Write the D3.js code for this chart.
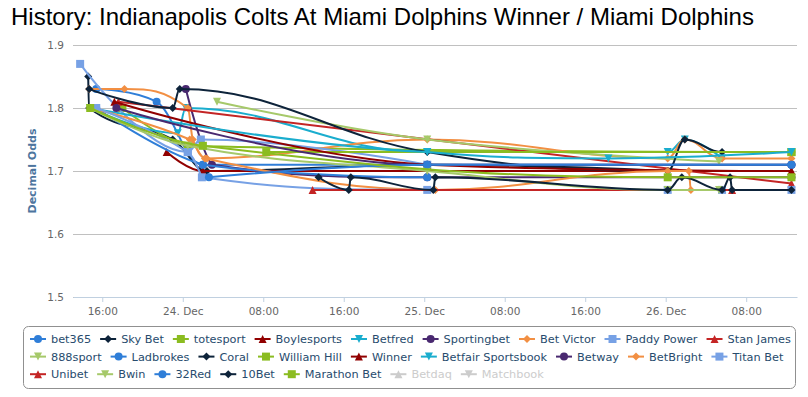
<!DOCTYPE html>
<html lang="en">
<head>
<meta charset="UTF-8">
<title>History: Indianapolis Colts At Miami Dolphins Winner / Miami Dolphins</title>
<script src="https://d3js.org/d3.v7.min.js"></script>
<style>
    body { margin: 0; background: #fff; }
    .title { font: 24px "Liberation Sans", Arial, sans-serif; fill: #000; }
    .tick text { font: 10.5px "DejaVu Sans", Verdana, sans-serif; fill: #666; }
    .ytitle { font: bold 11px "DejaVu Sans", Verdana, sans-serif; fill: #4d759e; }
    .legend text { font: 11.3px "DejaVu Sans", Verdana, sans-serif; fill: #274b6d; }
</style>
</head>
<body>
<script>
// bookmakers, in legend order
const names = ["bet365", "Sky Bet", "totesport", "Boylesports", "Betfred", "Sportingbet", "Bet Victor",
    "Paddy Power", "Stan James", "888sport", "Ladbrokes", "Coral", "William Hill", "Winner",
    "Betfair Sportsbook", "Betway", "BetBright", "Titan Bet", "Unibet", "Bwin", "32Red", "10Bet",
    "Marathon Bet", "Betdaq", "Matchbook"];
const hidden = ["Betdaq", "Matchbook"];

const colors = ["#2f7ed8", "#0d233a", "#8bbc21", "#910000", "#1aadce",
    "#492970", "#f28f43", "#77a1e5", "#c42525", "#a6c96a"];
const symbols = ["circle", "diamond", "square", "triangle", "triangle-down"];

// odds history: [hours after 23 Dec 00:00, decimal odds]
const bet365      = [[15.4,1.83],[21.4,1.81],[26.0,1.71],[48.3,1.71],[84.5,1.71]];
const skyBet      = [[14.6,1.85],[14.7,1.80],[23.0,1.75],[26.4,1.70],[48.3,1.71],[72.2,1.70]];
const totesport   = [[18.0,1.80],[24.5,1.74],[84.5,1.73]];
const boylesports = [[22.4,1.73],[26.0,1.70],[84.5,1.70]];
const betfred     = [[14.8,1.80],[23.5,1.76],[24.3,1.80],[48.3,1.73],[72.2,1.73],[73.9,1.75],[77.6,1.72]];
const sportingbet = [[24.3,1.83],[26.9,1.71],[48.3,1.69],[84.5,1.69]];
const betVictor   = [[14.7,1.83],[18.2,1.83],[24.5,1.80],[25.0,1.75],[26.4,1.72],[48.3,1.75],[72.2,1.72],[73.9,1.75],[77.6,1.72],[84.5,1.72]];
const paddyPower  = [[13.8,1.87],[24.5,1.73],[25.8,1.75],[48.3,1.71]];
const stanJames   = [[17.6,1.81],[84.5,1.68]];
const sport888    = [[27.4,1.81],[48.3,1.75],[77.3,1.715]];
const ladbrokes   = [[15.4,1.80],[26.0,1.71],[48.3,1.69]];
const coral       = [[14.7,1.83],[23.0,1.80],[23.7,1.83],[48.3,1.73],[72.2,1.70],[73.9,1.75],[77.6,1.73],[84.5,1.73]];
const williamHill = [[32.3,1.73],[84.5,1.73]];
const winner      = [[17.2,1.81],[48.3,1.71],[84.5,1.70]];
const betfair     = [[14.8,1.80],[48.3,1.73],[66.3,1.72],[84.5,1.73]];
const betway      = [[17.4,1.80],[48.3,1.71],[84.5,1.71]];
const betBright   = [[14.8,1.80],[24.7,1.75],[26.2,1.72],[49.1,1.67],[72.2,1.70],[74.3,1.70],[74.5,1.67],[84.5,1.67]];
const titanBet    = [[15.4,1.80],[24.5,1.73],[25.9,1.69],[48.3,1.67],[72.2,1.67],[77.6,1.67],[84.5,1.67]];
const unibet      = [[36.9,1.67],[78.6,1.67]];
const bwin        = [[14.8,1.80],[24.5,1.74],[48.3,1.70],[72.2,1.67],[77.3,1.67]];
const red32       = [[26.6,1.69],[48.3,1.71],[84.5,1.71]];
const bet10       = [[37.5,1.69],[40.5,1.67],[40.7,1.69],[48.9,1.67],[49.1,1.69],[72.2,1.67],[73.6,1.69],[77.6,1.67],[78.4,1.69],[78.6,1.67],[84.5,1.67]];
const marathonBet = [[14.8,1.80],[26.0,1.74],[72.2,1.69],[84.5,1.69]];

const seriesValues = [bet365, skyBet, totesport, boylesports, betfred, sportingbet, betVictor,
    paddyPower, stanJames, sport888, ladbrokes, coral, williamHill, winner, betfair, betway,
    betBright, titanBet, unibet, bwin, red32, bet10, marathonBet, [], []];

const yTicks = [1.5, 1.6, 1.7, 1.8, 1.9];
const legendRows = [9, 9, 7];

const width = 808, height = 397;
const margin = {left: 73, right: 11, top: 45, bottom: 100};
const base = Date.UTC(2013, 11, 23);
const toDate = h => new Date(base + h * 3600e3);

const svg = d3.select("body").append("svg")
    .attr("width", width)
    .attr("height", height);

svg.append("text")
    .attr("class", "title")
    .attr("x", 11)
    .attr("y", 25)
    .text("History: Indianapolis Colts At Miami Dolphins Winner / Miami Dolphins");

const x = d3.scaleUtc()
    .domain([toDate(13.09), toDate(85.05)])
    .range([margin.left, width - margin.right]);
const y = d3.scaleLinear()
    .domain([1.5, 1.9])
    .range([height - margin.bottom, margin.top]);

// grid + y labels
const yAxis = svg.append("g")
    .attr("transform", `translate(${margin.left},0)`)
    .call(d3.axisLeft(y).tickValues(yTicks).tickFormat(d3.format(".1f"))
        .tickSize(-(width - margin.left - margin.right)).tickPadding(9));
yAxis.select(".domain").remove();
yAxis.selectAll(".tick line").attr("stroke", "#c0c0c0");
yAxis.selectAll(".tick text").attr("dy", "0.35em");

svg.append("text")
    .attr("class", "ytitle")
    .attr("transform", `translate(36,${(margin.top + height - margin.bottom) / 2}) rotate(-90)`)
    .attr("text-anchor", "middle")
    .text("Decimal Odds");

// x axis
const xAxis = svg.append("g")
    .attr("transform", `translate(0,${height - margin.bottom})`)
    .call(d3.axisBottom(x).ticks(d3.utcHour.every(8))
        .tickFormat(d => d.getUTCHours() === 0 ? d3.utcFormat("%-d. %b")(d) : d3.utcFormat("%H:%M")(d))
        .tickSize(5).tickPadding(6).tickSizeOuter(0));
xAxis.select(".domain").attr("stroke", "#c0d0e0");
xAxis.selectAll(".tick line").attr("stroke", "#c0d0e0");

function symbolPath(type, cx, cy, r) {
    if (type === "circle") return `M${cx - r},${cy}a${r},${r} 0 1,0 ${2 * r},0a${r},${r} 0 1,0 ${-2 * r},0Z`;
    if (type === "square") return `M${cx - r},${cy - r}h${2 * r}v${2 * r}h${-2 * r}Z`;
    if (type === "diamond") return `M${cx},${cy - r}L${cx + r},${cy}L${cx},${cy + r}L${cx - r},${cy}Z`;
    if (type === "triangle") return `M${cx},${cy - r}L${cx + r},${cy + r}L${cx - r},${cy + r}Z`;
    return `M${cx - r},${cy - r}L${cx + r},${cy - r}L${cx},${cy + r}Z`;
}

// spline with 1.5 smoothing and no false extremes
function splinePath(pts) {
    const s = 1.5, d = s + 1;
    const cont = pts.map((p, i) => {
        const prev = pts[i - 1], next = pts[i + 1];
        if (!prev || !next) return null;
        const [px, py] = p;
        let lx = (s * px + prev[0]) / d, ly = (s * py + prev[1]) / d;
        let rx = (s * px + next[0]) / d, ry = (s * py + next[1]) / d;
        const corr = (ry - ly) * (rx - px) / (rx - lx || 1) + py - ry;
        ly += corr; ry += corr;
        if (ly > prev[1] && ly > py) { ly = Math.max(prev[1], py); ry = 2 * py - ly; }
        else if (ly < prev[1] && ly < py) { ly = Math.min(prev[1], py); ry = 2 * py - ly; }
        if (ry > next[1] && ry > py) { ry = Math.max(next[1], py); ly = 2 * py - ry; }
        else if (ry < next[1] && ry < py) { ry = Math.min(next[1], py); ly = 2 * py - ry; }
        return {lx, ly, rx, ry};
    });
    let path = `M${pts[0][0]},${pts[0][1]}`;
    for (let i = 1; i < pts.length; i++) {
        const a = cont[i - 1], b = cont[i];
        const c1 = a ? [a.rx, a.ry] : pts[i - 1];
        const c2 = b ? [b.lx, b.ly] : pts[i];
        path += `C${c1[0]},${c1[1]} ${c2[0]},${c2[1]} ${pts[i][0]},${pts[i][1]}`;
    }
    return path;
}

const plot = svg.append("g");
seriesValues.forEach((vals, i) => {
    if (!vals.length) return;
    const g = plot.append("g");
    const col = colors[i % 10];
    const pts = vals.map(v => [x(toDate(v[0])), y(v[1])]);
    g.append("path")
        .attr("d", splinePath(pts))
        .attr("fill", "none")
        .attr("stroke", col)
        .attr("stroke-width", 2);
    g.selectAll("path.pt")
        .data(pts)
        .join("path")
        .attr("class", "pt")
        .attr("d", p => symbolPath(symbols[i % 5], p[0], p[1], 4))
        .attr("fill", col);
});

// legend
const legend = svg.append("g").attr("class", "legend");
legend.append("rect")
    .attr("x", 23.5).attr("y", 326.5)
    .attr("width", 772).attr("height", 62)
    .attr("rx", 5)
    .attr("fill", "#fff")
    .attr("stroke", "#909090");

let idx = 0;
legendRows.forEach((count, r) => {
    let cx = 30;
    const cy = 339 + r * 17.6;
    for (let k = 0; k < count; k++, idx++) {
        const name = names[idx];
        const off = hidden.includes(name);
        const col = off ? "#ccc" : colors[idx % 10];
        const item = legend.append("g");
        item.append("path")
            .attr("d", `M${cx},${cy}h16`)
            .attr("stroke", col)
            .attr("stroke-width", 2);
        item.append("path")
            .attr("d", symbolPath(symbols[idx % 5], cx + 8, cy, 4))
            .attr("fill", col);
        const t = item.append("text")
            .attr("x", cx + 21)
            .attr("y", cy + 4)
            .style("fill", off ? "#ccc" : null)
            .text(name);
        cx += 21 + t.node().getComputedTextLength() + 9;
    }
});
</script>
</body>
</html>
